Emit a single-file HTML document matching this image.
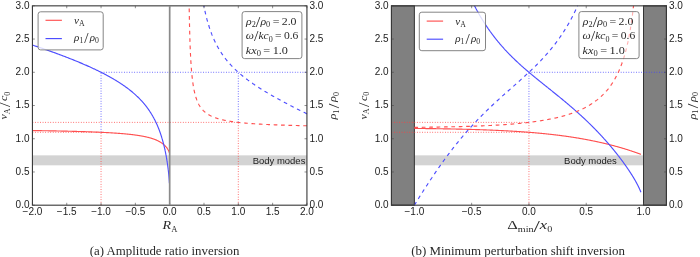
<!DOCTYPE html>
<html><head><meta charset="utf-8"><style>
html,body{margin:0;padding:0;background:#fff;}
body{width:700px;height:257px;overflow:hidden;}
svg{display:block;filter:blur(0.3px);}
</style></head><body>
<svg width="700" height="257" viewBox="0 0 700 257">
<rect width="700" height="257" fill="#fff"/>
<rect x="32.43" y="155.35" width="274.50" height="9.97" fill="#d3d3d3"/><text x="305.40" y="163.92" text-anchor="end" font-family="Liberation Sans, sans-serif" font-size="8.6" fill="#1a1a1a" textLength="52.7" lengthAdjust="spacingAndGlyphs">Body modes</text><line x1="101.06" y1="205.19" x2="101.06" y2="132.30" stroke="#ff4040" stroke-width="1.0" stroke-dasharray="0.85 1.7" opacity="0.85"/><line x1="101.06" y1="132.30" x2="101.06" y2="72.29" stroke="#4040ff" stroke-width="1.0" stroke-dasharray="0.85 1.7" opacity="0.85"/><line x1="238.31" y1="205.19" x2="238.31" y2="122.38" stroke="#ff4040" stroke-width="1.0" stroke-dasharray="0.85 1.7" opacity="0.85"/><line x1="238.31" y1="122.38" x2="238.31" y2="72.29" stroke="#4040ff" stroke-width="1.0" stroke-dasharray="0.85 1.7" opacity="0.85"/><line x1="32.43" y1="132.30" x2="101.06" y2="132.30" stroke="#ff4040" stroke-width="1.0" stroke-dasharray="0.85 1.7" opacity="0.85"/><line x1="32.43" y1="122.38" x2="238.31" y2="122.38" stroke="#ff4040" stroke-width="1.0" stroke-dasharray="0.85 1.7" opacity="0.85"/><line x1="101.06" y1="72.29" x2="306.93" y2="72.29" stroke="#4040ff" stroke-width="1.0" stroke-dasharray="0.85 1.7" opacity="0.85"/><path d="M169.39,152.82 L169.31,152.53 L169.22,152.24 L169.12,151.96 L169.01,151.67 L168.89,151.39 L168.77,151.11 L168.64,150.83 L168.51,150.55 L168.37,150.28 L168.23,150.01 L168.08,149.74 L167.92,149.48 L167.77,149.22 L167.60,148.96 L167.44,148.71 L167.27,148.46 L167.09,148.21 L166.91,147.95 L166.73,147.71 L166.54,147.47 L166.35,147.23 L166.16,147.00 L165.96,146.76 L165.75,146.53 L165.55,146.31 L165.34,146.08 L165.13,145.86 L164.92,145.65 L164.70,145.43 L164.47,145.22 L164.25,145.01 L164.03,144.81 L163.80,144.61 L163.56,144.40 L163.31,144.20 L163.06,143.99 L162.82,143.81 L162.58,143.62 L162.33,143.44 L162.07,143.25 L161.81,143.06 L161.54,142.88 L161.29,142.71 L161.03,142.55 L160.77,142.38 L160.50,142.21 L160.22,142.04 L159.94,141.88 L159.65,141.71 L159.38,141.56 L159.11,141.41 L158.83,141.26 L158.54,141.12 L158.25,140.97 L157.95,140.82 L157.64,140.67 L157.37,140.54 L157.09,140.41 L156.80,140.28 L156.51,140.15 L156.20,140.02 L155.90,139.89 L155.58,139.76 L155.26,139.63 L154.97,139.52 L154.68,139.41 L154.39,139.30 L154.09,139.19 L153.78,139.07 L153.46,138.96 L153.14,138.85 L152.81,138.74 L152.48,138.63 L152.19,138.54 L151.90,138.44 L151.60,138.35 L151.30,138.26 L150.99,138.16 L150.68,138.07 L150.36,137.98 L150.03,137.89 L149.69,137.79 L149.35,137.70 L149.01,137.61 L148.65,137.51 L148.29,137.42 L147.99,137.35 L147.69,137.27 L147.39,137.20 L147.08,137.13 L146.76,137.05 L146.44,136.98 L146.11,136.90 L145.78,136.83 L145.44,136.75 L145.09,136.68 L144.74,136.61 L144.38,136.53 L144.02,136.46 L143.64,136.38 L143.27,136.31 L142.88,136.23 L142.58,136.18 L142.28,136.12 L141.98,136.07 L141.67,136.01 L141.36,135.96 L141.04,135.90 L140.72,135.84 L140.39,135.79 L140.06,135.73 L139.72,135.68 L139.38,135.62 L139.03,135.57 L138.68,135.51 L138.32,135.45 L137.96,135.40 L137.58,135.34 L137.21,135.29 L136.82,135.23 L136.43,135.18 L136.04,135.12 L135.64,135.06 L135.23,135.01 L134.81,134.95 L134.39,134.90 L133.95,134.84 L133.52,134.79 L133.07,134.73 L132.77,134.69 L132.46,134.66 L132.15,134.62 L131.84,134.58 L131.52,134.55 L131.20,134.51 L130.87,134.47 L130.55,134.43 L130.21,134.40 L129.87,134.36 L129.53,134.32 L129.19,134.29 L128.84,134.25 L128.48,134.21 L128.12,134.17 L127.76,134.14 L127.39,134.10 L127.01,134.06 L126.64,134.03 L126.25,133.99 L125.86,133.95 L125.47,133.91 L125.07,133.88 L124.66,133.84 L124.25,133.80 L123.83,133.77 L123.41,133.73 L122.98,133.69 L122.55,133.65 L122.11,133.62 L121.66,133.58 L121.20,133.54 L120.74,133.51 L120.28,133.47 L119.80,133.43 L119.32,133.39 L118.83,133.36 L118.34,133.32 L117.83,133.28 L117.32,133.25 L116.80,133.21 L116.27,133.17 L115.74,133.13 L115.19,133.10 L114.64,133.06 L114.08,133.02 L113.50,132.99 L112.92,132.95 L112.33,132.91 L111.73,132.87 L111.43,132.86 L111.12,132.84 L110.81,132.82 L110.50,132.80 L110.18,132.78 L109.87,132.76 L109.55,132.74 L109.22,132.73 L108.90,132.71 L108.57,132.69 L108.24,132.67 L107.90,132.65 L107.57,132.63 L107.23,132.61 L106.88,132.60 L106.54,132.58 L106.19,132.56 L105.84,132.54 L105.48,132.52 L105.12,132.50 L104.76,132.48 L104.39,132.47 L104.02,132.45 L103.65,132.43 L103.27,132.41 L102.90,132.39 L102.51,132.37 L102.13,132.35 L101.74,132.34 L101.34,132.32 L100.94,132.30 L100.54,132.28 L100.14,132.26 L99.73,132.24 L99.31,132.22 L98.89,132.21 L98.47,132.19 L98.05,132.17 L97.62,132.15 L97.18,132.13 L96.74,132.11 L96.30,132.10 L95.85,132.08 L95.40,132.06 L94.94,132.04 L94.48,132.02 L94.01,132.00 L93.54,131.98 L93.06,131.97 L92.58,131.95 L92.09,131.93 L91.60,131.91 L91.11,131.89 L90.60,131.87 L90.09,131.85 L89.58,131.84 L89.06,131.82 L88.54,131.80 L88.01,131.78 L87.47,131.76 L86.93,131.74 L86.38,131.72 L85.82,131.71 L85.26,131.69 L84.69,131.67 L84.12,131.65 L83.54,131.63 L82.95,131.61 L82.35,131.59 L81.75,131.58 L81.14,131.56 L80.53,131.54 L79.90,131.52 L79.27,131.50 L78.63,131.48 L77.99,131.46 L77.33,131.45 L76.67,131.43 L76.00,131.41 L75.32,131.39 L74.63,131.37 L73.93,131.35 L73.23,131.33 L72.51,131.32 L71.79,131.30 L71.05,131.28 L70.31,131.26 L69.56,131.24 L68.79,131.22 L68.02,131.20 L67.24,131.19 L66.44,131.17 L65.64,131.15 L64.82,131.13 L63.99,131.11 L63.15,131.09 L62.30,131.07 L61.44,131.06 L60.56,131.04 L59.67,131.02 L58.77,131.00 L57.86,130.98 L56.93,130.96 L55.99,130.94 L55.04,130.93 L54.07,130.91 L53.08,130.89 L52.08,130.87 L51.07,130.85 L50.04,130.83 L48.99,130.81 L47.93,130.80 L46.85,130.78 L45.76,130.76 L44.64,130.74 L43.51,130.72 L42.36,130.70 L41.19,130.68 L40.00,130.67 L38.79,130.65 L37.56,130.63 L36.31,130.61 L35.04,130.59 L33.75,130.57 L32.43,130.55" fill="none" stroke="#ff5050" stroke-width="1.15"/><path d="M169.39,183.26 L169.38,182.92 L169.36,182.58 L169.34,182.25 L169.32,181.91 L169.30,181.58 L169.28,181.25 L169.26,180.92 L169.24,180.59 L169.21,180.26 L169.19,179.94 L169.17,179.61 L169.15,179.29 L169.12,178.97 L169.10,178.65 L169.07,178.33 L169.05,178.01 L169.02,177.69 L169.00,177.37 L168.97,177.06 L168.95,176.74 L168.92,176.43 L168.89,176.12 L168.86,175.80 L168.84,175.49 L168.81,175.18 L168.78,174.87 L168.75,174.56 L168.72,174.25 L168.69,173.94 L168.66,173.64 L168.63,173.33 L168.60,173.02 L168.57,172.72 L168.54,172.41 L168.50,172.10 L168.47,171.80 L168.44,171.50 L168.40,171.19 L168.37,170.89 L168.34,170.58 L168.30,170.28 L168.27,169.98 L168.23,169.68 L168.20,169.38 L168.16,169.07 L168.12,168.77 L168.09,168.47 L168.05,168.17 L168.01,167.87 L167.97,167.57 L167.93,167.27 L167.90,166.97 L167.86,166.67 L167.82,166.37 L167.78,166.07 L167.74,165.77 L167.70,165.48 L167.66,165.18 L167.61,164.88 L167.57,164.58 L167.53,164.28 L167.49,163.99 L167.44,163.69 L167.40,163.39 L167.36,163.09 L167.31,162.79 L167.27,162.50 L167.22,162.20 L167.18,161.90 L167.13,161.60 L167.09,161.31 L167.04,161.01 L166.99,160.71 L166.94,160.42 L166.90,160.12 L166.85,159.82 L166.80,159.53 L166.75,159.23 L166.70,158.93 L166.65,158.63 L166.60,158.34 L166.55,158.04 L166.50,157.74 L166.45,157.45 L166.39,157.15 L166.34,156.85 L166.29,156.56 L166.23,156.26 L166.18,155.96 L166.12,155.66 L166.07,155.37 L166.01,155.07 L165.96,154.77 L165.90,154.48 L165.84,154.18 L165.79,153.88 L165.73,153.58 L165.67,153.29 L165.61,152.99 L165.55,152.69 L165.49,152.39 L165.43,152.09 L165.37,151.80 L165.31,151.50 L165.25,151.20 L165.18,150.90 L165.12,150.60 L165.06,150.30 L164.99,150.00 L164.93,149.71 L164.86,149.41 L164.79,149.11 L164.73,148.81 L164.66,148.51 L164.59,148.21 L164.51,147.87 L164.43,147.53 L164.36,147.18 L164.27,146.84 L164.19,146.50 L164.11,146.16 L164.03,145.81 L163.94,145.47 L163.86,145.13 L163.77,144.78 L163.69,144.44 L163.60,144.09 L163.51,143.75 L163.42,143.40 L163.33,143.06 L163.24,142.71 L163.15,142.37 L163.06,142.02 L162.96,141.67 L162.87,141.33 L162.77,140.98 L162.67,140.63 L162.58,140.29 L162.48,139.94 L162.38,139.59 L162.28,139.24 L162.17,138.89 L162.07,138.54 L161.97,138.19 L161.86,137.84 L161.75,137.49 L161.65,137.14 L161.54,136.79 L161.43,136.44 L161.31,136.08 L161.20,135.73 L161.09,135.38 L160.97,135.02 L160.86,134.67 L160.74,134.32 L160.62,133.96 L160.50,133.61 L160.38,133.25 L160.25,132.89 L160.13,132.54 L160.00,132.18 L159.87,131.82 L159.74,131.46 L159.61,131.10 L159.48,130.74 L159.35,130.38 L159.21,130.02 L159.07,129.66 L158.93,129.30 L158.79,128.94 L158.65,128.58 L158.51,128.21 L158.36,127.85 L158.21,127.48 L158.07,127.12 L157.91,126.75 L157.76,126.39 L157.61,126.02 L157.45,125.65 L157.33,125.37 L157.21,125.10 L157.09,124.82 L156.97,124.54 L156.84,124.26 L156.72,123.99 L156.59,123.71 L156.46,123.43 L156.33,123.15 L156.20,122.87 L156.07,122.59 L155.94,122.31 L155.81,122.02 L155.67,121.74 L155.53,121.46 L155.40,121.18 L155.26,120.89 L155.12,120.61 L154.97,120.32 L154.83,120.04 L154.68,119.75 L154.54,119.47 L154.39,119.18 L154.24,118.89 L154.09,118.61 L153.93,118.32 L153.78,118.03 L153.62,117.74 L153.46,117.45 L153.30,117.16 L153.14,116.87 L152.98,116.58 L152.81,116.29 L152.65,115.99 L152.48,115.70 L152.31,115.40 L152.13,115.11 L151.96,114.81 L151.78,114.52 L151.60,114.22 L151.42,113.92 L151.24,113.63 L151.05,113.33 L150.87,113.03 L150.68,112.73 L150.49,112.43 L150.29,112.12 L150.09,111.82 L149.90,111.52 L149.69,111.21 L149.49,110.91 L149.29,110.60 L149.08,110.30 L148.87,109.99 L148.65,109.68 L148.44,109.37 L148.22,109.06 L147.99,108.75 L147.77,108.44 L147.54,108.12 L147.31,107.81 L147.08,107.50 L146.84,107.18 L146.60,106.86 L146.36,106.54 L146.11,106.23 L145.86,105.91 L145.61,105.58 L145.35,105.26 L145.09,104.94 L144.83,104.61 L144.56,104.29 L144.29,103.96 L144.02,103.63 L143.74,103.30 L143.46,102.97 L143.17,102.64 L142.88,102.31 L142.58,101.97 L142.28,101.64 L142.08,101.41 L141.88,101.19 L141.67,100.96 L141.46,100.73 L141.25,100.51 L141.04,100.28 L140.83,100.05 L140.61,99.82 L140.39,99.59 L140.17,99.36 L139.95,99.13 L139.72,98.90 L139.50,98.66 L139.27,98.43 L139.03,98.19 L138.80,97.96 L138.56,97.72 L138.32,97.49 L138.08,97.25 L137.83,97.01 L137.58,96.77 L137.33,96.53 L137.08,96.29 L136.82,96.05 L136.57,95.80 L136.30,95.56 L136.04,95.32 L135.77,95.07 L135.50,94.82 L135.23,94.58 L134.95,94.33 L134.67,94.08 L134.39,93.83 L134.10,93.58 L133.81,93.33 L133.52,93.07 L133.22,92.82 L132.92,92.56 L132.61,92.30 L132.31,92.05 L131.99,91.79 L131.68,91.53 L131.36,91.27 L131.04,91.00 L130.71,90.74 L130.38,90.48 L130.04,90.21 L129.70,89.94 L129.36,89.67 L129.01,89.40 L128.66,89.13 L128.30,88.86 L127.94,88.58 L127.57,88.31 L127.20,88.03 L126.83,87.75 L126.44,87.47 L126.06,87.19 L125.67,86.91 L125.27,86.62 L124.87,86.33 L124.46,86.05 L124.04,85.76 L123.62,85.46 L123.20,85.17 L122.77,84.87 L122.33,84.58 L121.88,84.28 L121.43,83.98 L120.98,83.67 L120.51,83.37 L120.04,83.06 L119.56,82.75 L119.08,82.44 L118.58,82.13 L118.08,81.81 L117.58,81.50 L117.32,81.34 L117.06,81.17 L116.80,81.01 L116.54,80.85 L116.27,80.69 L116.01,80.53 L115.74,80.36 L115.46,80.20 L115.19,80.03 L114.92,79.87 L114.64,79.70 L114.36,79.54 L114.08,79.37 L113.79,79.20 L113.50,79.03 L113.21,78.86 L112.92,78.69 L112.63,78.52 L112.33,78.35 L112.03,78.18 L111.73,78.01 L111.43,77.83 L111.12,77.66 L110.81,77.48 L110.50,77.31 L110.18,77.13 L109.87,76.95 L109.55,76.78 L109.22,76.60 L108.90,76.42 L108.57,76.24 L108.24,76.05 L107.90,75.87 L107.57,75.69 L107.23,75.50 L106.88,75.32 L106.54,75.13 L106.19,74.95 L105.84,74.76 L105.48,74.57 L105.12,74.38 L104.76,74.19 L104.39,74.00 L104.02,73.81 L103.65,73.61 L103.27,73.42 L102.90,73.23 L102.51,73.03 L102.13,72.83 L101.74,72.63 L101.34,72.43 L100.94,72.23 L100.54,72.03 L100.14,71.83 L99.73,71.63 L99.31,71.42 L98.89,71.21 L98.47,71.01 L98.05,70.80 L97.62,70.59 L97.18,70.38 L96.74,70.17 L96.30,69.95 L95.85,69.74 L95.40,69.52 L94.94,69.31 L94.48,69.09 L94.01,68.87 L93.54,68.65 L93.06,68.42 L92.58,68.20 L92.09,67.98 L91.60,67.75 L91.11,67.52 L90.60,67.29 L90.09,67.06 L89.58,66.83 L89.06,66.59 L88.54,66.36 L88.01,66.12 L87.47,65.88 L86.93,65.64 L86.38,65.40 L85.82,65.15 L85.26,64.91 L84.69,64.66 L84.12,64.41 L83.54,64.16 L82.95,63.91 L82.35,63.65 L81.75,63.39 L81.14,63.14 L80.53,62.88 L79.90,62.61 L79.27,62.35 L78.63,62.08 L77.99,61.81 L77.33,61.54 L76.67,61.27 L76.00,60.99 L75.32,60.72 L74.63,60.44 L73.93,60.15 L73.23,59.87 L72.51,59.58 L71.79,59.29 L71.05,59.00 L70.31,58.71 L69.56,58.41 L68.79,58.11 L68.02,57.81 L67.24,57.50 L66.44,57.19 L65.64,56.88 L64.82,56.57 L63.99,56.25 L63.15,55.93 L62.30,55.61 L61.44,55.28 L60.56,54.96 L59.67,54.62 L58.77,54.29 L57.86,53.95 L56.93,53.61 L55.99,53.26 L55.04,52.91 L54.07,52.56 L53.08,52.20 L52.08,51.84 L51.07,51.48 L50.04,51.11 L48.99,50.74 L47.93,50.36 L46.85,49.98 L45.76,49.59 L44.64,49.20 L43.51,48.81 L42.36,48.41 L41.19,48.01 L40.00,47.60 L38.79,47.19 L37.56,46.77 L36.31,46.35 L35.04,45.92 L33.75,45.49 L32.43,45.05" fill="none" stroke="#4d4dff" stroke-width="1.15"/><path d="M306.93,125.78 L305.39,125.75 L303.89,125.72 L302.42,125.68 L300.99,125.65 L299.59,125.61 L298.23,125.58 L296.90,125.55 L295.60,125.51 L294.33,125.48 L293.09,125.44 L291.87,125.41 L290.69,125.38 L289.53,125.34 L288.39,125.31 L287.28,125.28 L286.19,125.24 L285.13,125.21 L284.09,125.17 L283.07,125.14 L282.07,125.11 L281.09,125.07 L280.13,125.04 L279.19,125.01 L278.26,124.97 L277.36,124.94 L276.47,124.90 L275.60,124.87 L274.75,124.84 L273.91,124.80 L273.09,124.77 L272.28,124.73 L271.49,124.70 L270.71,124.67 L269.94,124.63 L269.19,124.60 L268.45,124.57 L267.73,124.53 L267.02,124.50 L266.32,124.46 L265.63,124.43 L264.95,124.40 L264.28,124.36 L263.63,124.33 L262.99,124.29 L262.35,124.26 L261.73,124.23 L261.12,124.19 L260.51,124.16 L259.92,124.13 L259.33,124.09 L258.76,124.06 L258.19,124.02 L257.63,123.99 L257.08,123.96 L256.54,123.92 L256.01,123.89 L255.48,123.85 L254.96,123.82 L254.45,123.79 L253.95,123.75 L253.46,123.72 L252.97,123.69 L252.49,123.65 L252.01,123.62 L251.54,123.58 L251.08,123.55 L250.63,123.52 L250.18,123.48 L249.73,123.45 L249.30,123.41 L248.87,123.38 L248.44,123.35 L248.02,123.31 L247.61,123.28 L247.20,123.25 L246.80,123.21 L246.40,123.18 L246.00,123.14 L245.62,123.11 L245.23,123.08 L244.86,123.04 L244.48,123.01 L244.11,122.97 L243.75,122.94 L243.39,122.91 L243.03,122.87 L242.68,122.84 L242.34,122.81 L241.99,122.77 L241.65,122.74 L241.32,122.70 L240.99,122.67 L240.66,122.64 L240.34,122.60 L240.02,122.57 L239.70,122.53 L239.39,122.50 L239.08,122.47 L238.78,122.43 L238.48,122.40 L238.18,122.37 L237.59,122.30 L237.02,122.23 L236.46,122.16 L235.91,122.10 L235.37,122.03 L234.85,121.96 L234.33,121.89 L233.83,121.82 L233.33,121.76 L232.85,121.69 L232.37,121.62 L231.91,121.55 L231.45,121.49 L231.00,121.42 L230.57,121.35 L230.14,121.28 L229.71,121.22 L229.30,121.15 L228.89,121.08 L228.49,121.01 L228.10,120.94 L227.72,120.88 L227.34,120.81 L226.97,120.74 L226.60,120.67 L226.24,120.61 L225.89,120.54 L225.55,120.47 L225.20,120.40 L224.87,120.34 L224.54,120.27 L224.22,120.20 L223.90,120.13 L223.59,120.06 L223.28,120.00 L222.97,119.93 L222.68,119.86 L222.38,119.79 L221.95,119.69 L221.53,119.59 L221.12,119.49 L220.71,119.39 L220.32,119.29 L219.93,119.19 L219.56,119.08 L219.19,118.98 L218.83,118.88 L218.48,118.78 L218.13,118.68 L217.79,118.58 L217.46,118.47 L217.13,118.37 L216.82,118.27 L216.50,118.17 L216.20,118.07 L215.90,117.97 L215.61,117.87 L215.32,117.76 L215.03,117.66 L214.67,117.53 L214.31,117.39 L213.95,117.26 L213.61,117.12 L213.28,116.99 L212.95,116.85 L212.63,116.71 L212.32,116.58 L212.02,116.44 L211.72,116.31 L211.43,116.17 L211.15,116.04 L210.87,115.90 L210.60,115.77 L210.26,115.60 L209.94,115.43 L209.63,115.26 L209.32,115.09 L209.02,114.92 L208.73,114.75 L208.44,114.58 L208.17,114.41 L207.90,114.24 L207.63,114.08 L207.37,113.91 L207.12,113.74 L206.83,113.53 L206.54,113.33 L206.26,113.13 L205.99,112.93 L205.73,112.72 L205.47,112.52 L205.22,112.32 L204.98,112.11 L204.74,111.91 L204.51,111.71 L204.28,111.50 L204.06,111.30 L203.81,111.06 L203.56,110.83 L203.32,110.59 L203.09,110.35 L202.87,110.12 L202.65,109.88 L202.43,109.64 L202.23,109.41 L202.02,109.17 L201.82,108.93 L201.63,108.70 L201.44,108.46 L201.23,108.19 L201.03,107.92 L200.83,107.65 L200.64,107.38 L200.45,107.11 L200.26,106.83 L200.09,106.56 L199.91,106.29 L199.74,106.02 L199.57,105.75 L199.33,105.34 L199.13,105.00 L198.94,104.66 L198.76,104.31 L198.58,103.97 L198.40,103.62 L198.23,103.28 L198.06,102.94 L197.90,102.59 L197.75,102.25 L197.59,101.90 L197.44,101.56 L197.30,101.22 L197.16,100.87 L197.02,100.53 L196.89,100.18 L196.76,99.84 L196.63,99.50 L196.51,99.15 L196.38,98.81 L196.27,98.47 L196.15,98.12 L196.04,97.78 L195.93,97.43 L195.82,97.09 L195.71,96.75 L195.61,96.40 L195.51,96.06 L195.41,95.71 L195.32,95.37 L195.22,95.03 L195.13,94.68 L195.04,94.34 L194.95,93.99 L194.87,93.65 L194.78,93.31 L194.70,92.96 L194.62,92.62 L194.54,92.27 L194.46,91.93 L194.38,91.59 L194.31,91.24 L194.24,90.90 L194.16,90.56 L194.09,90.21 L194.02,89.87 L193.96,89.52 L193.89,89.18 L193.82,88.84 L193.76,88.49 L193.70,88.15 L193.63,87.80 L193.57,87.46 L193.51,87.12 L193.45,86.77 L193.40,86.43 L193.34,86.08 L193.28,85.74 L193.23,85.40 L193.17,85.05 L193.12,84.71 L193.07,84.37 L193.02,84.02 L192.97,83.68 L192.92,83.33 L192.87,82.99 L192.82,82.65 L192.77,82.30 L192.73,81.96 L192.68,81.61 L192.64,81.27 L192.59,80.93 L192.55,80.58 L192.51,80.24 L192.46,79.89 L192.42,79.55 L192.38,79.21 L192.34,78.86 L192.30,78.52 L192.26,78.18 L192.22,77.83 L192.18,77.49 L192.15,77.14 L192.11,76.80 L192.07,76.46 L192.04,76.11 L192.00,75.77 L191.97,75.42 L191.93,75.08 L191.90,74.74 L191.87,74.39 L191.83,74.05 L191.80,73.70 L191.77,73.36 L191.74,73.02 L191.70,72.67 L191.67,72.33 L191.64,71.98 L191.61,71.64 L191.58,71.30 L191.55,70.95 L191.53,70.61 L191.50,70.27 L191.47,69.92 L191.44,69.58 L191.41,69.23 L191.39,68.89 L191.36,68.55 L191.33,68.20 L191.31,67.86 L191.28,67.51 L191.26,67.17 L191.23,66.83 L191.21,66.48 L191.18,66.14 L191.16,65.79 L191.13,65.45 L191.11,65.11 L191.09,64.76 L191.06,64.42 L191.04,64.08 L191.02,63.73 L191.00,63.39 L190.97,63.04 L190.95,62.70 L190.93,62.36 L190.91,62.01 L190.89,61.67 L190.87,61.32 L190.85,60.98 L190.83,60.64 L190.81,60.29 L190.79,59.95 L190.77,59.60 L190.75,59.26 L190.73,58.92 L190.71,58.57 L190.69,58.23 L190.67,57.89 L190.65,57.54 L190.63,57.20 L190.62,56.85 L190.60,56.51 L190.58,56.17 L190.56,55.82 L190.55,55.48 L190.53,55.13 L190.51,54.79 L190.50,54.45 L190.48,54.10 L190.46,53.76 L190.45,53.41 L190.43,53.07 L190.42,52.73 L190.40,52.38 L190.38,52.04 L190.37,51.69 L190.35,51.35 L190.34,51.01 L190.32,50.66 L190.31,50.32 L190.29,49.98 L190.28,49.63 L190.26,49.29 L190.25,48.94 L190.24,48.60 L190.22,48.26 L190.21,47.91 L190.20,47.57 L190.18,47.22 L190.17,46.88 L190.15,46.54 L190.14,46.19 L190.13,45.85 L190.12,45.50 L190.10,45.16 L190.09,44.82 L190.08,44.47 L190.07,44.13 L190.05,43.79 L190.04,43.44 L190.03,43.10 L190.02,42.75 L190.00,42.41 L189.99,42.07 L189.98,41.72 L189.97,41.38 L189.96,41.03 L189.95,40.69 L189.94,40.35 L189.92,40.00 L189.91,39.66 L189.90,39.31 L189.89,38.97 L189.88,38.63 L189.87,38.28 L189.86,37.94 L189.85,37.60 L189.84,37.25 L189.83,36.91 L189.82,36.56 L189.81,36.22 L189.80,35.88 L189.79,35.53 L189.78,35.19 L189.77,34.84 L189.76,34.50 L189.75,34.16 L189.74,33.81 L189.73,33.47 L189.72,33.12 L189.71,32.78 L189.70,32.44 L189.69,32.09 L189.68,31.75 L189.67,31.40 L189.67,31.06 L189.66,30.72 L189.65,30.37 L189.64,30.03 L189.63,29.69 L189.62,29.34 L189.61,29.00 L189.60,28.65 L189.60,28.31 L189.59,27.97 L189.58,27.62 L189.57,27.28 L189.56,26.93 L189.56,26.59 L189.55,26.25 L189.54,25.90 L189.53,25.56 L189.52,25.21 L189.52,24.87 L189.51,24.53 L189.50,24.18 L189.49,23.84 L189.49,23.50 L189.48,23.15 L189.47,22.81 L189.46,22.46 L189.46,22.12 L189.45,21.78 L189.44,21.43 L189.43,21.09 L189.43,20.74 L189.42,20.40 L189.41,20.06 L189.41,19.71 L189.40,19.37 L189.39,19.02 L189.39,18.68 L189.38,18.34 L189.37,17.99 L189.37,17.65 L189.36,17.31 L189.35,16.96 L189.35,16.62 L189.34,16.27 L189.33,15.93 L189.33,15.59 L189.32,15.24 L189.31,14.90 L189.31,14.55 L189.30,14.21 L189.30,13.87 L189.29,13.52 L189.28,13.18 L189.28,12.83 L189.27,12.49 L189.27,12.15 L189.26,11.80 L189.25,11.46 L189.25,11.11 L189.24,10.77 L189.24,10.43 L189.23,10.08 L189.23,9.74 L189.22,9.40 L189.21,9.05 L189.21,8.71 L189.20,8.36 L189.20,8.02 L189.19,7.68 L189.19,7.33 L189.18,6.99 L189.18,6.64 L189.17,6.30 L189.17,5.96 L189.16,5.84" fill="none" stroke="#ff5050" stroke-width="1.15" stroke-dasharray="3.7 3.7"/><path d="M306.93,113.86 L305.39,113.10 L303.89,112.35 L302.42,111.62 L300.99,110.91 L299.59,110.21 L298.23,109.52 L296.90,108.85 L295.60,108.19 L294.33,107.54 L293.09,106.90 L291.87,106.28 L290.69,105.66 L289.53,105.06 L288.39,104.47 L287.28,103.89 L286.19,103.31 L285.13,102.75 L284.09,102.20 L283.07,101.65 L282.07,101.11 L281.09,100.59 L280.13,100.06 L279.19,99.55 L278.26,99.04 L277.36,98.55 L276.47,98.05 L275.60,97.57 L274.75,97.09 L273.91,96.62 L273.09,96.15 L272.28,95.69 L271.49,95.24 L270.71,94.79 L269.94,94.35 L269.19,93.91 L268.45,93.48 L267.73,93.05 L267.02,92.63 L266.32,92.21 L265.63,91.80 L264.95,91.39 L264.28,90.99 L263.63,90.59 L262.99,90.19 L262.35,89.80 L261.73,89.41 L261.12,89.03 L260.51,88.65 L259.92,88.27 L259.33,87.90 L258.76,87.53 L258.19,87.16 L257.63,86.80 L257.08,86.44 L256.54,86.09 L256.01,85.73 L255.48,85.38 L254.96,85.04 L254.45,84.69 L253.95,84.35 L253.46,84.01 L252.97,83.68 L252.49,83.34 L252.01,83.01 L251.54,82.69 L251.08,82.36 L250.63,82.04 L250.18,81.72 L249.73,81.40 L249.30,81.08 L248.87,80.77 L248.44,80.45 L248.02,80.15 L247.61,79.84 L247.20,79.53 L246.80,79.23 L246.40,78.93 L246.00,78.63 L245.62,78.33 L245.23,78.03 L244.86,77.74 L244.48,77.45 L244.11,77.15 L243.75,76.87 L243.39,76.58 L243.03,76.29 L242.68,76.01 L242.34,75.72 L241.99,75.44 L241.65,75.16 L241.32,74.89 L240.99,74.61 L240.66,74.33 L240.34,74.06 L240.02,73.79 L239.70,73.52 L239.39,73.25 L239.08,72.98 L238.78,72.71 L238.48,72.44 L238.18,72.18 L237.88,71.91 L237.59,71.65 L237.30,71.39 L237.02,71.13 L236.74,70.87 L236.46,70.61 L236.18,70.36 L235.91,70.10 L235.64,69.85 L235.37,69.59 L235.11,69.34 L234.85,69.09 L234.59,68.84 L234.33,68.59 L234.08,68.34 L233.83,68.09 L233.58,67.84 L233.33,67.60 L233.09,67.35 L232.85,67.11 L232.61,66.86 L232.37,66.62 L232.14,66.38 L231.91,66.14 L231.68,65.90 L231.45,65.66 L231.23,65.42 L231.00,65.18 L230.78,64.95 L230.57,64.71 L230.35,64.47 L230.14,64.24 L229.92,64.00 L229.71,63.77 L229.51,63.54 L229.30,63.31 L229.09,63.07 L228.89,62.84 L228.69,62.61 L228.49,62.38 L228.30,62.16 L228.10,61.93 L227.72,61.47 L227.34,61.02 L226.97,60.57 L226.60,60.12 L226.24,59.68 L225.89,59.23 L225.55,58.79 L225.20,58.35 L224.87,57.92 L224.54,57.48 L224.22,57.05 L223.90,56.61 L223.59,56.18 L223.28,55.76 L222.97,55.33 L222.68,54.90 L222.38,54.48 L222.09,54.06 L221.81,53.64 L221.53,53.22 L221.25,52.80 L220.98,52.38 L220.71,51.97 L220.45,51.56 L220.19,51.14 L219.93,50.73 L219.68,50.32 L219.43,49.91 L219.19,49.51 L218.95,49.10 L218.71,48.69 L218.48,48.29 L218.24,47.89 L218.02,47.48 L217.79,47.08 L217.57,46.68 L217.35,46.28 L217.13,45.88 L216.92,45.49 L216.71,45.09 L216.50,44.69 L216.30,44.30 L216.10,43.91 L215.90,43.51 L215.70,43.12 L215.51,42.73 L215.32,42.34 L215.13,41.95 L214.94,41.56 L214.76,41.17 L214.57,40.78 L214.39,40.39 L214.22,40.01 L214.04,39.62 L213.87,39.23 L213.70,38.85 L213.53,38.46 L213.36,38.08 L213.20,37.70 L213.03,37.31 L212.87,36.93 L212.71,36.55 L212.55,36.17 L212.40,35.79 L212.25,35.41 L212.09,35.03 L211.94,34.65 L211.79,34.27 L211.65,33.89 L211.50,33.52 L211.36,33.14 L211.22,32.76 L211.08,32.38 L210.94,32.01 L210.80,31.63 L210.66,31.26 L210.53,30.88 L210.39,30.51 L210.26,30.13 L210.13,29.76 L210.00,29.39 L209.88,29.01 L209.75,28.64 L209.63,28.27 L209.50,27.89 L209.38,27.52 L209.26,27.15 L209.14,26.78 L209.02,26.41 L208.90,26.04 L208.79,25.67 L208.67,25.30 L208.56,24.93 L208.44,24.56 L208.33,24.19 L208.22,23.82 L208.11,23.45 L208.00,23.08 L207.90,22.71 L207.79,22.34 L207.68,21.98 L207.58,21.61 L207.48,21.24 L207.37,20.87 L207.27,20.51 L207.17,20.14 L207.07,19.77 L206.97,19.41 L206.88,19.04 L206.78,18.67 L206.68,18.31 L206.59,17.94 L206.50,17.57 L206.40,17.21 L206.31,16.84 L206.22,16.48 L206.13,16.11 L206.04,15.75 L205.95,15.38 L205.86,15.02 L205.77,14.65 L205.68,14.29 L205.60,13.92 L205.51,13.56 L205.43,13.19 L205.34,12.83 L205.26,12.47 L205.18,12.10 L205.10,11.74 L205.02,11.37 L204.94,11.01 L204.86,10.65 L204.78,10.28 L204.70,9.92 L204.62,9.56 L204.54,9.19 L204.47,8.83 L204.39,8.47 L204.32,8.10 L204.24,7.74 L204.17,7.38 L204.09,7.01 L204.02,6.65 L203.95,6.29 L203.88,5.93 L203.86,5.84" fill="none" stroke="#4d4dff" stroke-width="1.15" stroke-dasharray="3.7 3.7"/><g stroke="#444" stroke-width="0.6"><line x1="32.43" y1="205.19" x2="32.43" y2="202.79"/><line x1="32.43" y1="5.84" x2="32.43" y2="8.24"/><line x1="66.74" y1="205.19" x2="66.74" y2="202.79"/><line x1="66.74" y1="5.84" x2="66.74" y2="8.24"/><line x1="101.06" y1="205.19" x2="101.06" y2="202.79"/><line x1="101.06" y1="5.84" x2="101.06" y2="8.24"/><line x1="135.37" y1="205.19" x2="135.37" y2="202.79"/><line x1="135.37" y1="5.84" x2="135.37" y2="8.24"/><line x1="169.68" y1="205.19" x2="169.68" y2="202.79"/><line x1="169.68" y1="5.84" x2="169.68" y2="8.24"/><line x1="203.99" y1="205.19" x2="203.99" y2="202.79"/><line x1="203.99" y1="5.84" x2="203.99" y2="8.24"/><line x1="238.31" y1="205.19" x2="238.31" y2="202.79"/><line x1="238.31" y1="5.84" x2="238.31" y2="8.24"/><line x1="272.62" y1="205.19" x2="272.62" y2="202.79"/><line x1="272.62" y1="5.84" x2="272.62" y2="8.24"/><line x1="306.93" y1="205.19" x2="306.93" y2="202.79"/><line x1="306.93" y1="5.84" x2="306.93" y2="8.24"/><line x1="32.43" y1="205.19" x2="34.83" y2="205.19"/><line x1="306.93" y1="205.19" x2="304.53000000000003" y2="205.19"/><line x1="32.43" y1="171.97" x2="34.83" y2="171.97"/><line x1="306.93" y1="171.97" x2="304.53000000000003" y2="171.97"/><line x1="32.43" y1="138.74" x2="34.83" y2="138.74"/><line x1="306.93" y1="138.74" x2="304.53000000000003" y2="138.74"/><line x1="32.43" y1="105.52" x2="34.83" y2="105.52"/><line x1="306.93" y1="105.52" x2="304.53000000000003" y2="105.52"/><line x1="32.43" y1="72.29" x2="34.83" y2="72.29"/><line x1="306.93" y1="72.29" x2="304.53000000000003" y2="72.29"/><line x1="32.43" y1="39.06" x2="34.83" y2="39.06"/><line x1="306.93" y1="39.06" x2="304.53000000000003" y2="39.06"/><line x1="32.43" y1="5.84" x2="34.83" y2="5.84"/><line x1="306.93" y1="5.84" x2="304.53000000000003" y2="5.84"/></g><rect x="32.43" y="5.84" width="274.50" height="199.35" fill="none" stroke="#383838" stroke-width="1.1"/><g font-family="Liberation Sans, sans-serif" font-size="10" fill="#222"><text x="29.53" y="208.04" text-anchor="end">0.0</text><text x="309.53" y="208.04">0.0</text><text x="29.53" y="174.81" text-anchor="end">0.5</text><text x="309.53" y="174.81">0.5</text><text x="29.53" y="141.59" text-anchor="end">1.0</text><text x="309.53" y="141.59">1.0</text><text x="29.53" y="108.36" text-anchor="end">1.5</text><text x="309.53" y="108.36">1.5</text><text x="29.53" y="75.14" text-anchor="end">2.0</text><text x="309.53" y="75.14">2.0</text><text x="29.53" y="41.91" text-anchor="end">2.5</text><text x="309.53" y="41.91">2.5</text><text x="29.53" y="8.69" text-anchor="end">3.0</text><text x="309.53" y="8.69">3.0</text><text x="32.43" y="215.29" text-anchor="middle">−2.0</text><text x="66.74" y="215.29" text-anchor="middle">−1.5</text><text x="101.06" y="215.29" text-anchor="middle">−1.0</text><text x="135.37" y="215.29" text-anchor="middle">−0.5</text><text x="169.68" y="215.29" text-anchor="middle">0.0</text><text x="203.99" y="215.29" text-anchor="middle">0.5</text><text x="238.31" y="215.29" text-anchor="middle">1.0</text><text x="272.62" y="215.29" text-anchor="middle">1.5</text><text x="306.93" y="215.29" text-anchor="middle">2.0</text></g><rect x="38.1" y="11.8" width="65.1" height="38.1" rx="2.5" fill="#fff" fill-opacity="0.8" stroke="#777" stroke-width="0.9"/><line x1="45.5" y1="20.3" x2="61.900000000000006" y2="20.3" stroke="#ff5050" stroke-width="1.15"/><line x1="45.5" y1="38.6" x2="61.900000000000006" y2="38.6" stroke="#4d4dff" stroke-width="1.15"/><text x="74.1" y="23.8" font-family="Liberation Serif, serif" font-size="10.5" fill="#2a2a2a" textLength="10.6" lengthAdjust="spacingAndGlyphs"><tspan font-style="italic">v</tspan><tspan font-size="7.3" dy="2.3">A</tspan></text><text x="74.1" y="41.0" font-family="Liberation Serif, serif" font-size="10.5" fill="#2a2a2a" textLength="24.8" lengthAdjust="spacingAndGlyphs"><tspan font-style="italic">ρ</tspan><tspan font-size="7.3" dy="2.3">1</tspan><tspan dx="1.0" font-size="14.49" dy="-0.20">/</tspan><tspan font-style="italic" dx="1.0" dy="-2.10">ρ</tspan><tspan font-size="7.3" dy="2.3">0</tspan></text><rect x="242.1" y="11.6" width="59.8" height="47.0" rx="2.5" fill="#fff" fill-opacity="0.55" stroke="#777" stroke-width="0.9"/><text x="246.0" y="24.7" font-family="Liberation Serif, serif" font-size="10.5" fill="#2a2a2a" textLength="50.6" lengthAdjust="spacingAndGlyphs"><tspan font-style="italic">ρ</tspan><tspan font-size="7.3" dy="2.3">2</tspan><tspan font-size="14.49" dy="-0.20">/</tspan><tspan font-style="italic" dy="-2.10">ρ</tspan><tspan font-size="7.3" dy="2.3">0</tspan><tspan dy="-2.3"> = 2.0</tspan></text><text x="245.79999999999998" y="39.3" font-family="Liberation Serif, serif" font-size="10.5" fill="#2a2a2a" textLength="52.6" lengthAdjust="spacingAndGlyphs"><tspan font-style="italic">ω</tspan><tspan font-size="14.49" dy="2.10">/</tspan><tspan font-style="italic" dy="-2.10">kc</tspan><tspan font-size="7.3" dy="2.3">0</tspan><tspan dy="-2.3"> = 0.6</tspan></text><text x="245.79999999999998" y="53.9" font-family="Liberation Serif, serif" font-size="10.5" fill="#2a2a2a" textLength="42.2" lengthAdjust="spacingAndGlyphs"><tspan font-style="italic">kx</tspan><tspan font-size="7.3" dy="2.3">0</tspan><tspan dy="-2.3"> = 1.0</tspan></text><line x1="169.68" y1="5.84" x2="169.68" y2="205.19" stroke="#8a8a8a" stroke-width="1.7"/><rect x="391.45" y="155.35" width="274.98" height="9.97" fill="#d3d3d3"/><text x="616.80" y="163.92" text-anchor="end" font-family="Liberation Sans, sans-serif" font-size="8.6" fill="#1a1a1a" textLength="52.7" lengthAdjust="spacingAndGlyphs">Body modes</text><rect x="391.45" y="5.84" width="22.92" height="199.35" fill="#808080" stroke="#333" stroke-width="1"/><rect x="643.51" y="5.84" width="22.91" height="199.35" fill="#808080" stroke="#333" stroke-width="1"/><line x1="528.94" y1="205.19" x2="528.94" y2="122.38" stroke="#ff4040" stroke-width="1.0" stroke-dasharray="0.85 1.7" opacity="0.85"/><line x1="528.94" y1="122.38" x2="528.94" y2="72.29" stroke="#4040ff" stroke-width="1.0" stroke-dasharray="0.85 1.7" opacity="0.85"/><line x1="391.45" y1="132.30" x2="528.94" y2="132.30" stroke="#ff4040" stroke-width="1.0" stroke-dasharray="0.85 1.7" opacity="0.85"/><line x1="391.45" y1="122.38" x2="528.94" y2="122.38" stroke="#ff4040" stroke-width="1.0" stroke-dasharray="0.85 1.7" opacity="0.85"/><line x1="528.94" y1="72.29" x2="666.43" y2="72.29" stroke="#4040ff" stroke-width="1.0" stroke-dasharray="0.85 1.7" opacity="0.85"/><path d="M640.91,154.36 L640.62,154.24 L640.32,154.13 L640.02,154.02 L639.72,153.91 L639.42,153.80 L639.11,153.69 L638.81,153.58 L638.50,153.46 L638.20,153.35 L637.89,153.24 L637.58,153.13 L637.27,153.02 L636.96,152.91 L636.65,152.79 L636.33,152.68 L636.02,152.57 L635.70,152.46 L635.38,152.35 L635.06,152.24 L634.74,152.13 L634.42,152.01 L634.10,151.90 L633.77,151.79 L633.45,151.68 L633.12,151.57 L632.79,151.46 L632.46,151.35 L632.13,151.23 L631.80,151.12 L631.46,151.01 L631.13,150.90 L630.79,150.79 L630.45,150.68 L630.11,150.57 L629.77,150.45 L629.43,150.34 L629.08,150.23 L628.74,150.12 L628.39,150.01 L628.04,149.90 L627.69,149.78 L627.34,149.67 L626.98,149.56 L626.63,149.45 L626.27,149.34 L625.91,149.23 L625.55,149.12 L625.19,149.00 L624.83,148.89 L624.46,148.78 L624.10,148.67 L623.73,148.56 L623.36,148.45 L622.99,148.34 L622.61,148.22 L622.24,148.11 L621.86,148.00 L621.48,147.89 L621.10,147.78 L620.72,147.67 L620.33,147.55 L619.95,147.44 L619.56,147.33 L619.17,147.22 L618.78,147.11 L618.38,147.00 L617.99,146.89 L617.59,146.77 L617.19,146.66 L616.79,146.55 L616.39,146.44 L615.98,146.33 L615.57,146.22 L615.16,146.11 L614.75,145.99 L614.34,145.88 L613.92,145.77 L613.50,145.66 L613.08,145.55 L612.66,145.44 L612.24,145.33 L611.81,145.21 L611.38,145.10 L610.95,144.99 L610.51,144.88 L610.22,144.80 L609.93,144.73 L609.64,144.66 L609.34,144.58 L609.05,144.51 L608.75,144.43 L608.45,144.36 L608.15,144.28 L607.85,144.21 L607.55,144.14 L607.25,144.06 L606.95,143.99 L606.64,143.91 L606.34,143.84 L606.03,143.76 L605.72,143.69 L605.42,143.62 L605.10,143.54 L604.79,143.47 L604.48,143.39 L604.17,143.32 L603.85,143.24 L603.53,143.17 L603.22,143.10 L602.90,143.02 L602.58,142.95 L602.25,142.87 L601.93,142.80 L601.61,142.72 L601.28,142.65 L600.95,142.58 L600.63,142.50 L600.29,142.43 L599.96,142.35 L599.63,142.28 L599.30,142.20 L598.96,142.13 L598.62,142.05 L598.28,141.98 L597.94,141.91 L597.60,141.83 L597.26,141.76 L596.91,141.68 L596.57,141.61 L596.22,141.53 L595.87,141.46 L595.52,141.39 L595.16,141.31 L594.81,141.24 L594.45,141.16 L594.10,141.09 L593.74,141.01 L593.37,140.94 L593.01,140.87 L592.65,140.79 L592.28,140.72 L591.91,140.64 L591.54,140.57 L591.17,140.49 L590.79,140.42 L590.42,140.35 L590.04,140.27 L589.66,140.20 L589.28,140.12 L588.90,140.05 L588.51,139.97 L588.12,139.90 L587.73,139.82 L587.34,139.75 L586.95,139.68 L586.55,139.60 L586.15,139.53 L585.75,139.45 L585.35,139.38 L584.94,139.30 L584.54,139.23 L584.13,139.16 L583.72,139.08 L583.30,139.01 L582.89,138.93 L582.47,138.86 L582.05,138.78 L581.62,138.71 L581.20,138.64 L580.77,138.56 L580.34,138.49 L579.90,138.41 L579.47,138.34 L579.03,138.26 L578.58,138.19 L578.14,138.12 L577.69,138.04 L577.24,137.97 L576.79,137.89 L576.33,137.82 L575.87,137.74 L575.41,137.67 L574.94,137.60 L574.48,137.52 L574.00,137.45 L573.53,137.37 L573.05,137.30 L572.57,137.22 L572.09,137.15 L571.60,137.07 L571.11,137.00 L570.61,136.93 L570.11,136.85 L569.61,136.78 L569.10,136.70 L568.59,136.63 L568.08,136.55 L567.56,136.48 L567.04,136.41 L566.52,136.33 L565.99,136.26 L565.45,136.18 L564.92,136.11 L564.37,136.03 L563.83,135.96 L563.28,135.89 L562.72,135.81 L562.16,135.74 L561.60,135.66 L561.03,135.59 L560.45,135.51 L559.87,135.44 L559.29,135.37 L558.70,135.29 L558.10,135.22 L557.80,135.18 L557.50,135.14 L557.20,135.11 L556.89,135.07 L556.59,135.03 L556.28,134.99 L555.97,134.96 L555.67,134.92 L555.35,134.88 L555.04,134.85 L554.73,134.81 L554.41,134.77 L554.10,134.73 L553.78,134.70 L553.46,134.66 L553.13,134.62 L552.81,134.58 L552.49,134.55 L552.16,134.51 L551.83,134.47 L551.50,134.44 L551.17,134.40 L550.84,134.36 L550.50,134.32 L550.16,134.29 L549.83,134.25 L549.49,134.21 L549.14,134.18 L548.80,134.14 L548.45,134.10 L548.11,134.06 L547.76,134.03 L547.40,133.99 L547.05,133.95 L546.70,133.92 L546.34,133.88 L545.98,133.84 L545.62,133.80 L545.25,133.77 L544.89,133.73 L544.52,133.69 L544.15,133.66 L543.78,133.62 L543.40,133.58 L543.03,133.54 L542.65,133.51 L542.27,133.47 L541.88,133.43 L541.50,133.40 L541.11,133.36 L540.72,133.32 L540.33,133.28 L539.93,133.25 L539.53,133.21 L539.13,133.17 L538.73,133.14 L538.32,133.10 L537.91,133.06 L537.50,133.02 L537.09,132.99 L536.67,132.95 L536.25,132.91 L535.83,132.88 L535.40,132.84 L534.97,132.80 L534.54,132.76 L534.11,132.73 L533.67,132.69 L533.23,132.65 L532.79,132.62 L532.34,132.58 L531.89,132.54 L531.43,132.50 L530.98,132.47 L530.52,132.43 L530.05,132.39 L529.58,132.36 L529.11,132.32 L528.64,132.28 L528.16,132.24 L527.68,132.21 L527.19,132.17 L526.70,132.13 L526.20,132.09 L525.83,132.07 L525.46,132.04 L525.16,132.02 L524.86,132.00 L524.55,131.97 L524.25,131.95 L523.94,131.93 L523.63,131.91 L523.32,131.88 L523.01,131.86 L522.69,131.84 L522.38,131.82 L522.06,131.80 L521.74,131.77 L521.42,131.75 L521.10,131.73 L520.78,131.71 L520.45,131.68 L520.13,131.66 L519.80,131.64 L519.47,131.62 L519.13,131.60 L518.80,131.57 L518.46,131.55 L518.12,131.53 L517.78,131.51 L517.44,131.48 L517.10,131.46 L516.75,131.44 L516.40,131.42 L516.05,131.40 L515.70,131.37 L515.34,131.35 L514.99,131.33 L514.63,131.31 L514.26,131.29 L513.90,131.26 L513.54,131.24 L513.17,131.22 L512.80,131.20 L512.42,131.17 L512.05,131.15 L511.67,131.13 L511.29,131.11 L510.91,131.09 L510.52,131.06 L510.13,131.04 L509.74,131.02 L509.35,131.00 L508.96,130.97 L508.56,130.95 L508.26,130.94 L507.95,130.92 L507.65,130.90 L507.35,130.89 L507.04,130.87 L506.73,130.85 L506.42,130.84 L506.11,130.82 L505.79,130.80 L505.48,130.79 L505.16,130.77 L504.84,130.75 L504.52,130.74 L504.20,130.72 L503.87,130.70 L503.55,130.69 L503.22,130.67 L502.89,130.65 L502.56,130.64 L502.23,130.62 L501.89,130.60 L501.55,130.59 L501.21,130.57 L500.87,130.55 L500.53,130.54 L500.18,130.52 L499.83,130.50 L499.48,130.49 L499.13,130.47 L498.78,130.45 L498.42,130.44 L498.06,130.42 L497.70,130.40 L497.34,130.39 L496.97,130.37 L496.60,130.35 L496.23,130.34 L495.86,130.32 L495.48,130.30 L495.11,130.29 L494.73,130.27 L494.34,130.25 L493.96,130.24 L493.57,130.22 L493.18,130.20 L492.78,130.19 L492.39,130.17 L491.99,130.15 L491.59,130.14 L491.18,130.12 L490.77,130.10 L490.36,130.09 L489.95,130.07 L489.53,130.05 L489.11,130.04 L488.69,130.02 L488.26,130.00 L487.83,129.99 L487.40,129.97 L486.96,129.95 L486.52,129.94 L486.08,129.92 L485.63,129.90 L485.33,129.89 L485.03,129.88 L484.72,129.87 L484.42,129.86 L484.11,129.85 L483.80,129.84 L483.49,129.83 L483.18,129.82 L482.87,129.80 L482.55,129.79 L482.24,129.78 L481.92,129.77 L481.60,129.76 L481.27,129.75 L480.95,129.74 L480.62,129.73 L480.30,129.72 L479.96,129.70 L479.63,129.69 L479.30,129.68 L478.96,129.67 L478.62,129.66 L478.28,129.65 L477.94,129.64 L477.60,129.63 L477.25,129.62 L476.90,129.60 L476.55,129.59 L476.19,129.58 L475.84,129.57 L475.48,129.56 L475.12,129.55 L474.76,129.54 L474.39,129.53 L474.02,129.52 L473.65,129.50 L473.28,129.49 L472.91,129.48 L472.53,129.47 L472.15,129.46 L471.76,129.45 L471.38,129.44 L470.99,129.43 L470.60,129.42 L470.21,129.40 L469.81,129.39 L469.41,129.38 L469.01,129.37 L468.60,129.36 L468.19,129.35 L467.78,129.34 L467.36,129.33 L466.95,129.32 L466.52,129.30 L466.10,129.29 L465.67,129.28 L465.24,129.27 L464.80,129.26 L464.37,129.25 L463.92,129.24 L463.48,129.23 L463.03,129.22 L462.58,129.21 L462.12,129.19 L461.66,129.18 L461.19,129.17 L460.73,129.16 L460.25,129.15 L459.78,129.14 L459.30,129.13 L458.81,129.12 L458.32,129.11 L457.83,129.09 L457.33,129.08 L456.82,129.07 L456.32,129.06 L455.80,129.05 L455.28,129.04 L454.76,129.03 L454.23,129.02 L453.70,129.01 L453.16,128.99 L452.62,128.98 L452.07,128.97 L451.51,128.96 L450.95,128.95 L450.38,128.94 L449.81,128.93 L449.23,128.92 L448.65,128.91 L448.05,128.89 L447.46,128.88 L447.15,128.88 L446.85,128.87 L446.55,128.87 L446.24,128.86 L445.93,128.86 L445.62,128.85 L445.31,128.84 L444.99,128.84 L444.68,128.83 L444.36,128.83 L444.04,128.82 L443.72,128.82 L443.39,128.81 L443.07,128.81 L442.74,128.80 L442.41,128.79 L442.08,128.79 L441.74,128.78 L441.41,128.78 L441.07,128.77 L440.59,128.76 L440.12,128.76 L439.65,128.75 L439.19,128.74 L438.74,128.74 L438.29,128.73 L437.85,128.72 L437.41,128.71 L436.99,128.71 L436.56,128.70 L436.15,128.70 L435.74,128.69 L435.34,128.68 L434.94,128.68 L434.55,128.67 L434.17,128.67 L433.79,128.66 L433.42,128.66 L433.05,128.65 L432.69,128.65 L432.34,128.64 L431.99,128.64 L431.65,128.63 L431.31,128.63 L430.98,128.62 L430.65,128.62 L430.33,128.61 L430.02,128.61 L429.71,128.61 L429.40,128.60 L428.81,128.59 L428.24,128.59 L427.68,128.58 L427.15,128.57 L426.64,128.57 L426.14,128.56 L425.66,128.55 L425.20,128.55 L424.76,128.54 L424.33,128.54 L423.92,128.53 L423.53,128.53 L423.15,128.52 L422.78,128.52 L422.43,128.52 L422.09,128.51 L421.77,128.51 L421.45,128.50 L421.01,128.50 L420.59,128.49 L420.20,128.49 L419.83,128.49 L419.48,128.48 L419.15,128.48 L418.85,128.48 L418.47,128.47 L418.12,128.47 L417.80,128.46 L417.43,128.46 L417.11,128.46 L416.76,128.45 L416.46,128.45 L416.15,128.45 L415.82,128.44 L415.50,128.44 L415.19,128.44 L414.89,128.43 L414.58,128.43 L414.37,128.43" fill="none" stroke="#ff5050" stroke-width="1.15"/><path d="M640.91,192.30 L640.72,191.78 L640.52,191.28 L640.32,190.79 L640.12,190.31 L639.92,189.84 L639.72,189.38 L639.52,188.93 L639.32,188.48 L639.11,188.04 L638.91,187.60 L638.71,187.18 L638.50,186.75 L638.30,186.33 L638.10,185.92 L637.89,185.51 L637.68,185.10 L637.48,184.70 L637.27,184.30 L637.06,183.90 L636.86,183.51 L636.65,183.12 L636.44,182.73 L636.23,182.35 L636.02,181.97 L635.81,181.59 L635.59,181.21 L635.38,180.83 L635.17,180.46 L634.96,180.09 L634.74,179.72 L634.53,179.35 L634.31,178.98 L634.10,178.61 L633.88,178.25 L633.66,177.89 L633.45,177.53 L633.23,177.16 L633.01,176.81 L632.79,176.45 L632.57,176.09 L632.35,175.73 L632.13,175.38 L631.91,175.02 L631.69,174.67 L631.46,174.32 L631.24,173.97 L631.01,173.61 L630.79,173.26 L630.56,172.91 L630.34,172.56 L630.11,172.22 L629.88,171.87 L629.65,171.52 L629.43,171.17 L629.20,170.83 L628.97,170.48 L628.74,170.14 L628.50,169.79 L628.27,169.45 L628.04,169.10 L627.81,168.76 L627.57,168.42 L627.34,168.07 L627.10,167.73 L626.86,167.39 L626.63,167.05 L626.39,166.71 L626.15,166.36 L625.91,166.02 L625.67,165.68 L625.43,165.34 L625.19,165.00 L624.95,164.66 L624.71,164.32 L624.46,163.98 L624.22,163.64 L623.97,163.30 L623.73,162.96 L623.48,162.62 L623.23,162.28 L622.99,161.94 L622.74,161.61 L622.49,161.27 L622.24,160.93 L621.99,160.59 L621.73,160.25 L621.48,159.91 L621.23,159.57 L620.97,159.23 L620.72,158.89 L620.46,158.56 L620.21,158.22 L619.95,157.88 L619.69,157.54 L619.43,157.20 L619.17,156.86 L618.91,156.52 L618.65,156.18 L618.38,155.85 L618.12,155.51 L617.86,155.17 L617.59,154.83 L617.33,154.49 L617.06,154.15 L616.79,153.81 L616.52,153.47 L616.25,153.13 L615.98,152.79 L615.71,152.45 L615.44,152.11 L615.16,151.77 L614.89,151.43 L614.61,151.09 L614.34,150.75 L614.06,150.41 L613.78,150.07 L613.50,149.73 L613.22,149.39 L612.94,149.04 L612.66,148.70 L612.38,148.36 L612.09,148.02 L611.81,147.68 L611.52,147.33 L611.23,146.99 L610.95,146.65 L610.66,146.31 L610.37,145.96 L610.08,145.62 L609.78,145.27 L609.49,144.93 L609.19,144.59 L608.90,144.24 L608.60,143.90 L608.30,143.55 L608.00,143.21 L607.70,142.86 L607.40,142.51 L607.10,142.17 L606.80,141.82 L606.49,141.47 L606.19,141.13 L605.88,140.78 L605.57,140.43 L605.26,140.08 L604.95,139.73 L604.64,139.38 L604.32,139.04 L604.01,138.69 L603.69,138.34 L603.38,137.99 L603.06,137.63 L602.74,137.28 L602.42,136.93 L602.09,136.58 L601.77,136.23 L601.44,135.87 L601.12,135.52 L600.79,135.17 L600.46,134.81 L600.13,134.46 L599.80,134.10 L599.46,133.75 L599.13,133.39 L598.79,133.03 L598.45,132.68 L598.11,132.32 L597.77,131.96 L597.43,131.60 L597.09,131.24 L596.74,130.88 L596.39,130.52 L596.04,130.16 L595.69,129.80 L595.34,129.44 L594.99,129.08 L594.63,128.71 L594.27,128.35 L593.92,127.99 L593.56,127.62 L593.19,127.26 L592.83,126.89 L592.46,126.52 L592.10,126.16 L591.73,125.79 L591.35,125.42 L590.98,125.05 L590.61,124.68 L590.23,124.31 L589.85,123.94 L589.47,123.56 L589.09,123.19 L588.70,122.82 L588.32,122.44 L587.93,122.07 L587.54,121.69 L587.14,121.31 L586.75,120.93 L586.35,120.56 L585.95,120.18 L585.55,119.79 L585.15,119.41 L584.74,119.03 L584.33,118.65 L583.92,118.26 L583.51,117.88 L583.09,117.49 L582.68,117.10 L582.26,116.71 L581.83,116.32 L581.41,115.93 L580.98,115.54 L580.55,115.15 L580.12,114.75 L579.68,114.36 L579.25,113.96 L578.81,113.56 L578.36,113.16 L577.92,112.76 L577.69,112.56 L577.47,112.36 L577.24,112.16 L577.01,111.96 L576.79,111.75 L576.56,111.55 L576.33,111.35 L576.10,111.15 L575.87,110.94 L575.64,110.74 L575.41,110.53 L575.18,110.33 L574.94,110.12 L574.71,109.92 L574.48,109.71 L574.24,109.51 L574.00,109.30 L573.77,109.09 L573.53,108.89 L573.29,108.68 L573.05,108.47 L572.81,108.26 L572.57,108.05 L572.33,107.84 L572.09,107.63 L571.84,107.42 L571.60,107.21 L571.35,107.00 L571.11,106.79 L570.86,106.57 L570.61,106.36 L570.36,106.15 L570.11,105.94 L569.86,105.72 L569.61,105.51 L569.36,105.29 L569.10,105.08 L568.85,104.86 L568.59,104.64 L568.34,104.43 L568.08,104.21 L567.82,103.99 L567.56,103.77 L567.30,103.55 L567.04,103.33 L566.78,103.11 L566.52,102.89 L566.25,102.67 L565.99,102.45 L565.72,102.22 L565.45,102.00 L565.19,101.78 L564.92,101.55 L564.65,101.33 L564.37,101.10 L564.10,100.87 L563.83,100.65 L563.55,100.42 L563.28,100.19 L563.00,99.96 L562.72,99.73 L562.44,99.50 L562.16,99.27 L561.88,99.04 L561.60,98.80 L561.31,98.57 L561.03,98.34 L560.74,98.10 L560.45,97.86 L560.16,97.63 L559.87,97.39 L559.58,97.15 L559.29,96.91 L558.99,96.67 L558.70,96.43 L558.40,96.19 L558.10,95.95 L557.80,95.70 L557.50,95.46 L557.20,95.22 L556.89,94.97 L556.59,94.72 L556.28,94.47 L555.97,94.22 L555.67,93.97 L555.35,93.72 L555.04,93.47 L554.73,93.22 L554.41,92.96 L554.10,92.71 L553.78,92.45 L553.46,92.20 L553.13,91.94 L552.81,91.68 L552.49,91.42 L552.16,91.15 L551.83,90.89 L551.50,90.63 L551.17,90.36 L550.84,90.09 L550.50,89.82 L550.16,89.55 L549.83,89.28 L549.49,89.01 L549.14,88.74 L548.80,88.46 L548.45,88.18 L548.11,87.91 L547.76,87.63 L547.40,87.35 L547.05,87.06 L546.70,86.78 L546.34,86.49 L545.98,86.20 L545.62,85.91 L545.25,85.62 L544.89,85.33 L544.52,85.04 L544.15,84.74 L543.78,84.44 L543.40,84.14 L543.03,83.84 L542.65,83.53 L542.27,83.23 L541.88,82.92 L541.50,82.61 L541.11,82.30 L540.72,81.98 L540.33,81.67 L539.93,81.35 L539.53,81.02 L539.13,80.70 L538.73,80.37 L538.32,80.04 L537.91,79.71 L537.50,79.38 L537.09,79.04 L536.67,78.70 L536.25,78.36 L535.83,78.01 L535.40,77.67 L534.97,77.31 L534.54,76.96 L534.11,76.60 L533.67,76.24 L533.23,75.88 L532.79,75.51 L532.34,75.14 L531.89,74.76 L531.43,74.39 L530.98,74.00 L530.52,73.62 L530.05,73.23 L529.58,72.83 L529.11,72.44 L528.64,72.03 L528.16,71.63 L527.68,71.22 L527.19,70.80 L526.70,70.38 L526.20,69.95 L525.91,69.70 L525.61,69.44 L525.31,69.18 L525.01,68.92 L524.78,68.72 L524.55,68.52 L524.32,68.32 L524.09,68.12 L523.86,67.92 L523.63,67.71 L523.40,67.51 L523.16,67.30 L522.93,67.09 L522.69,66.89 L522.46,66.68 L522.22,66.47 L521.98,66.25 L521.74,66.04 L521.50,65.82 L521.26,65.61 L521.02,65.39 L520.78,65.17 L520.53,64.95 L520.29,64.73 L520.04,64.51 L519.80,64.28 L519.55,64.06 L519.30,63.83 L519.05,63.60 L518.80,63.37 L518.55,63.14 L518.29,62.91 L518.04,62.67 L517.78,62.43 L517.53,62.19 L517.27,61.95 L517.01,61.71 L516.75,61.47 L516.49,61.22 L516.23,60.98 L515.96,60.73 L515.70,60.48 L515.43,60.22 L515.16,59.97 L514.90,59.71 L514.63,59.46 L514.36,59.20 L514.08,58.93 L513.81,58.67 L513.54,58.40 L513.26,58.13 L512.98,57.86 L512.70,57.59 L512.42,57.31 L512.14,57.04 L511.86,56.76 L511.58,56.47 L511.29,56.19 L511.00,55.90 L510.72,55.61 L510.43,55.32 L510.13,55.03 L509.84,54.73 L509.55,54.43 L509.25,54.13 L508.96,53.82 L508.66,53.52 L508.36,53.21 L508.06,52.89 L507.75,52.58 L507.45,52.26 L507.14,51.93 L506.83,51.61 L506.63,51.39 L506.42,51.17 L506.21,50.95 L506.00,50.72 L505.79,50.50 L505.58,50.27 L505.37,50.05 L505.16,49.82 L504.95,49.59 L504.74,49.35 L504.52,49.12 L504.31,48.88 L504.09,48.65 L503.87,48.41 L503.66,48.17 L503.44,47.93 L503.22,47.68 L503.00,47.44 L502.78,47.19 L502.56,46.94 L502.34,46.69 L502.11,46.44 L501.89,46.18 L501.66,45.93 L501.44,45.67 L501.21,45.41 L500.99,45.14 L500.76,44.88 L500.53,44.61 L500.30,44.35 L500.07,44.08 L499.83,43.80 L499.60,43.53 L499.37,43.25 L499.13,42.97 L498.90,42.69 L498.66,42.41 L498.42,42.12 L498.18,41.83 L497.94,41.54 L497.70,41.25 L497.46,40.95 L497.22,40.66 L496.97,40.35 L496.73,40.05 L496.48,39.75 L496.23,39.44 L495.98,39.13 L495.73,38.81 L495.48,38.50 L495.23,38.18 L494.98,37.86 L494.73,37.53 L494.47,37.20 L494.21,36.87 L493.96,36.54 L493.70,36.20 L493.44,35.86 L493.18,35.52 L492.92,35.17 L492.65,34.82 L492.39,34.47 L492.12,34.11 L491.85,33.75 L491.59,33.39 L491.32,33.02 L491.04,32.65 L490.77,32.28 L490.50,31.90 L490.22,31.52 L489.95,31.13 L489.67,30.74 L489.39,30.35 L489.11,29.95 L488.83,29.55 L488.54,29.14 L488.26,28.73 L487.97,28.32 L487.69,27.90 L487.40,27.47 L487.11,27.05 L486.81,26.61 L486.52,26.18 L486.22,25.73 L485.93,25.28 L485.63,24.83 L485.33,24.37 L485.03,23.91 L484.72,23.44 L484.42,22.97 L484.11,22.49 L483.80,22.00 L483.49,21.51 L483.18,21.01 L482.87,20.51 L482.55,20.00 L482.40,19.75 L482.24,19.49 L482.08,19.23 L481.92,18.96 L481.76,18.70 L481.60,18.44 L481.44,18.17 L481.27,17.90 L481.11,17.63 L480.95,17.36 L480.79,17.09 L480.62,16.81 L480.46,16.53 L480.30,16.25 L480.13,15.97 L479.96,15.69 L479.80,15.41 L479.63,15.12 L479.47,14.83 L479.30,14.54 L479.13,14.25 L478.96,13.96 L478.79,13.66 L478.62,13.36 L478.45,13.06 L478.28,12.76 L478.11,12.46 L477.94,12.15 L477.77,11.84 L477.60,11.53 L477.42,11.22 L477.25,10.90 L477.07,10.59 L476.90,10.27 L476.72,9.95 L476.55,9.62 L476.37,9.30 L476.19,8.97 L476.02,8.64 L475.84,8.30 L475.66,7.97 L475.48,7.63 L475.30,7.29 L475.12,6.95 L474.94,6.60 L474.76,6.26 L474.57,5.90 L474.54,5.84" fill="none" stroke="#4d4dff" stroke-width="1.15"/><path d="M414.37,127.39 L414.67,127.38 L414.98,127.38 L415.29,127.38 L415.61,127.37 L415.93,127.37 L416.24,127.37 L416.56,127.36 L416.88,127.36 L417.24,127.35 L417.58,127.35 L417.96,127.35 L418.29,127.34 L418.66,127.34 L419.05,127.33 L419.37,127.33 L419.71,127.33 L420.08,127.32 L420.46,127.32 L420.87,127.31 L421.30,127.31 L421.61,127.30 L421.93,127.30 L422.25,127.30 L422.60,127.29 L422.95,127.29 L423.33,127.28 L423.71,127.28 L424.11,127.27 L424.53,127.27 L424.96,127.26 L425.41,127.26 L425.87,127.25 L426.35,127.24 L426.85,127.24 L427.37,127.23 L427.91,127.22 L428.46,127.21 L429.04,127.21 L429.63,127.20 L429.94,127.19 L430.25,127.19 L430.57,127.18 L430.89,127.18 L431.21,127.17 L431.55,127.17 L431.88,127.16 L432.23,127.16 L432.57,127.15 L432.93,127.15 L433.29,127.14 L433.65,127.14 L434.02,127.13 L434.40,127.13 L434.78,127.12 L435.17,127.11 L435.57,127.11 L435.97,127.10 L436.37,127.09 L436.79,127.09 L437.20,127.08 L437.63,127.07 L438.06,127.07 L438.50,127.06 L438.94,127.05 L439.39,127.04 L439.84,127.03 L440.31,127.03 L440.77,127.02 L441.25,127.01 L441.73,127.00 L442.22,126.99 L442.71,126.98 L443.21,126.97 L443.72,126.96 L444.23,126.95 L444.75,126.94 L445.27,126.93 L445.80,126.92 L446.34,126.91 L446.89,126.90 L447.44,126.89 L448.00,126.88 L448.56,126.87 L449.13,126.85 L449.71,126.84 L450.29,126.83 L450.88,126.82 L451.48,126.80 L452.08,126.79 L452.69,126.77 L453.31,126.76 L453.93,126.75 L454.56,126.73 L455.20,126.72 L455.84,126.70 L456.49,126.68 L457.14,126.67 L457.80,126.65 L458.47,126.63 L459.14,126.62 L459.82,126.60 L460.50,126.58 L461.19,126.56 L461.89,126.54 L462.59,126.52 L463.30,126.50 L464.01,126.48 L464.73,126.46 L465.46,126.44 L466.19,126.42 L466.93,126.39 L467.67,126.37 L468.42,126.35 L469.18,126.32 L469.94,126.30 L470.70,126.27 L471.47,126.25 L472.25,126.22 L473.03,126.19 L473.81,126.17 L474.61,126.14 L475.40,126.11 L476.20,126.08 L477.01,126.05 L477.82,126.02 L478.64,125.98 L479.46,125.95 L480.28,125.92 L481.11,125.88 L481.95,125.85 L482.78,125.81 L483.63,125.78 L484.47,125.74 L485.33,125.70 L486.18,125.66 L487.04,125.62 L487.91,125.58 L488.77,125.54 L489.64,125.49 L490.52,125.45 L492.88,125.33 L495.12,125.20 L497.26,125.08 L499.31,124.96 L501.27,124.83 L503.14,124.71 L504.95,124.59 L506.68,124.47 L508.35,124.34 L509.96,124.22 L511.52,124.10 L513.02,123.97 L514.48,123.85 L515.89,123.73 L517.26,123.60 L518.58,123.48 L519.87,123.36 L521.12,123.23 L522.33,123.11 L523.52,122.99 L524.67,122.87 L525.79,122.74 L526.88,122.62 L527.95,122.50 L528.99,122.37 L530.01,122.25 L531.00,122.13 L531.98,122.00 L532.93,121.88 L533.85,121.76 L534.76,121.64 L535.65,121.51 L536.52,121.39 L537.38,121.27 L538.22,121.14 L539.04,121.02 L539.84,120.90 L540.63,120.77 L541.41,120.65 L542.17,120.53 L542.91,120.40 L543.65,120.28 L544.37,120.16 L545.08,120.04 L545.78,119.91 L546.46,119.79 L547.13,119.67 L547.80,119.54 L548.45,119.42 L549.09,119.30 L549.72,119.17 L550.34,119.05 L550.96,118.93 L551.56,118.80 L552.15,118.68 L552.74,118.56 L553.32,118.44 L553.88,118.31 L554.44,118.19 L555.00,118.07 L555.54,117.94 L556.08,117.82 L556.61,117.70 L557.13,117.57 L557.65,117.45 L558.16,117.33 L558.66,117.21 L559.16,117.08 L559.65,116.96 L560.13,116.84 L560.61,116.71 L561.08,116.59 L561.55,116.47 L562.01,116.34 L562.46,116.22 L562.91,116.10 L563.36,115.97 L563.80,115.85 L564.23,115.73 L564.66,115.61 L565.08,115.48 L565.50,115.36 L565.92,115.24 L566.33,115.11 L566.73,114.99 L567.13,114.87 L567.53,114.74 L567.92,114.62 L568.31,114.50 L568.70,114.38 L569.08,114.25 L569.45,114.13 L569.82,114.01 L570.19,113.88 L570.56,113.76 L570.92,113.64 L571.28,113.51 L571.63,113.39 L571.98,113.27 L572.33,113.14 L572.67,113.02 L573.01,112.90 L573.35,112.78 L573.68,112.65 L574.01,112.53 L574.34,112.41 L574.67,112.28 L574.99,112.16 L575.31,112.04 L575.62,111.91 L575.93,111.79 L576.24,111.67 L576.55,111.54 L576.86,111.42 L577.16,111.30 L577.46,111.18 L577.75,111.05 L578.05,110.93 L578.34,110.81 L578.63,110.68 L578.91,110.56 L579.20,110.44 L579.48,110.31 L579.76,110.19 L580.04,110.07 L580.31,109.94 L580.85,109.70 L581.39,109.45 L581.91,109.21 L582.43,108.96 L582.94,108.71 L583.44,108.47 L583.93,108.22 L584.42,107.98 L584.89,107.73 L585.36,107.48 L585.83,107.24 L586.29,106.99 L586.74,106.75 L587.18,106.50 L587.62,106.25 L588.05,106.01 L588.47,105.76 L588.89,105.52 L589.31,105.27 L589.72,105.02 L590.12,104.78 L590.51,104.53 L590.91,104.28 L591.29,104.04 L591.67,103.79 L592.05,103.55 L592.42,103.30 L592.79,103.05 L593.15,102.81 L593.51,102.56 L593.86,102.32 L594.21,102.07 L594.56,101.82 L594.90,101.58 L595.23,101.33 L595.56,101.08 L595.89,100.84 L596.22,100.59 L596.54,100.35 L596.85,100.10 L597.17,99.85 L597.48,99.61 L597.78,99.36 L598.08,99.12 L598.38,98.87 L598.68,98.62 L598.97,98.38 L599.26,98.13 L599.54,97.89 L599.83,97.64 L600.11,97.39 L600.38,97.15 L600.65,96.90 L600.92,96.66 L601.19,96.41 L601.46,96.16 L601.72,95.92 L601.98,95.67 L602.23,95.42 L602.49,95.18 L602.74,94.93 L602.99,94.69 L603.23,94.44 L603.48,94.19 L603.72,93.95 L603.95,93.70 L604.19,93.46 L604.42,93.21 L604.66,92.96 L604.88,92.72 L605.11,92.47 L605.34,92.23 L605.56,91.98 L605.78,91.73 L606.00,91.49 L606.21,91.24 L606.43,90.99 L606.64,90.75 L606.85,90.50 L607.06,90.26 L607.26,90.01 L607.47,89.76 L607.67,89.52 L607.87,89.27 L608.07,89.03 L608.26,88.78 L608.46,88.53 L608.65,88.29 L608.84,88.04 L609.03,87.80 L609.22,87.55 L609.40,87.30 L609.59,87.06 L609.77,86.81 L609.95,86.56 L610.13,86.32 L610.31,86.07 L610.49,85.83 L610.66,85.58 L610.84,85.33 L611.01,85.09 L611.26,84.72 L611.52,84.35 L611.76,83.98 L612.01,83.61 L612.25,83.24 L612.49,82.87 L612.73,82.50 L612.96,82.13 L613.19,81.77 L613.42,81.40 L613.65,81.03 L613.87,80.66 L614.09,80.29 L614.30,79.92 L614.52,79.55 L614.73,79.18 L614.94,78.81 L615.15,78.44 L615.35,78.07 L615.55,77.70 L615.75,77.34 L615.95,76.97 L616.15,76.60 L616.34,76.23 L616.53,75.86 L616.72,75.49 L616.91,75.12 L617.09,74.75 L617.27,74.38 L617.46,74.01 L617.63,73.64 L617.81,73.27 L617.99,72.91 L618.16,72.54 L618.33,72.17 L618.50,71.80 L618.67,71.43 L618.83,71.06 L619.00,70.69 L619.16,70.32 L619.32,69.95 L619.48,69.58 L619.63,69.21 L619.79,68.84 L619.94,68.48 L620.10,68.11 L620.25,67.74 L620.40,67.37 L620.54,67.00 L620.69,66.63 L620.83,66.26 L620.98,65.89 L621.12,65.52 L621.26,65.15 L621.40,64.78 L621.54,64.41 L621.67,64.05 L621.81,63.68 L621.94,63.31 L622.07,62.94 L622.21,62.57 L622.34,62.20 L622.46,61.83 L622.59,61.46 L622.72,61.09 L622.84,60.72 L622.97,60.35 L623.09,59.98 L623.21,59.62 L623.33,59.25 L623.45,58.88 L623.57,58.51 L623.69,58.14 L623.80,57.77 L623.92,57.40 L624.03,57.03 L624.14,56.66 L624.25,56.29 L624.37,55.92 L624.48,55.55 L624.58,55.19 L624.69,54.82 L624.80,54.45 L624.90,54.08 L625.01,53.71 L625.11,53.34 L625.22,52.97 L625.32,52.60 L625.42,52.23 L625.52,51.86 L625.62,51.49 L625.72,51.12 L625.82,50.76 L625.91,50.39 L626.01,50.02 L626.11,49.65 L626.20,49.28 L626.29,48.91 L626.39,48.54 L626.48,48.17 L626.57,47.80 L626.66,47.43 L626.75,47.06 L626.84,46.69 L626.93,46.33 L627.02,45.96 L627.10,45.59 L627.19,45.22 L627.28,44.85 L627.36,44.48 L627.45,44.11 L627.53,43.74 L627.61,43.37 L627.69,43.00 L627.78,42.63 L627.86,42.26 L627.94,41.90 L628.02,41.53 L628.10,41.16 L628.17,40.79 L628.25,40.42 L628.33,40.05 L628.40,39.68 L628.48,39.31 L628.56,38.94 L628.63,38.57 L628.70,38.20 L628.78,37.83 L628.85,37.47 L628.92,37.10 L629.00,36.73 L629.07,36.36 L629.14,35.99 L629.21,35.62 L629.28,35.25 L629.35,34.88 L629.42,34.51 L629.48,34.14 L629.55,33.77 L629.62,33.40 L629.69,33.04 L629.75,32.67 L629.82,32.30 L629.88,31.93 L629.95,31.56 L630.01,31.19 L630.08,30.82 L630.14,30.45 L630.20,30.08 L630.26,29.71 L630.33,29.34 L630.39,28.97 L630.45,28.61 L630.51,28.24 L630.57,27.87 L630.63,27.50 L630.69,27.13 L630.75,26.76 L630.81,26.39 L630.86,26.02 L630.92,25.65 L630.98,25.28 L631.04,24.91 L631.09,24.54 L631.15,24.18 L631.20,23.81 L631.26,23.44 L631.31,23.07 L631.37,22.70 L631.42,22.33 L631.48,21.96 L631.53,21.59 L631.58,21.22 L631.64,20.85 L631.69,20.48 L631.74,20.11 L631.79,19.75 L631.84,19.38 L631.89,19.01 L631.94,18.64 L632.00,18.27 L632.05,17.90 L632.09,17.53 L632.14,17.16 L632.19,16.79 L632.24,16.42 L632.29,16.05 L632.34,15.68 L632.39,15.32 L632.43,14.95 L632.48,14.58 L632.53,14.21 L632.57,13.84 L632.62,13.47 L632.66,13.10 L632.71,12.73 L632.76,12.36 L632.80,11.99 L632.85,11.62 L632.89,11.25 L632.93,10.89 L632.98,10.52 L633.02,10.15 L633.06,9.78 L633.11,9.41 L633.15,9.04 L633.19,8.67 L633.23,8.30 L633.28,7.93 L633.32,7.56 L633.36,7.19 L633.40,6.82 L633.44,6.46 L633.48,6.09 L633.51,5.84" fill="none" stroke="#ff5050" stroke-width="1.15" stroke-dasharray="3.7 3.7"/><path d="M414.37,205.19 L414.52,204.93 L414.68,204.68 L414.84,204.41 L415.01,204.14 L415.17,203.88 L415.33,203.61 L415.50,203.34 L415.67,203.07 L415.86,202.76 L416.04,202.47 L416.20,202.21 L416.37,201.93 L416.56,201.63 L416.77,201.29 L416.94,201.02 L417.12,200.73 L417.31,200.42 L417.51,200.10 L417.73,199.75 L417.96,199.37 L418.12,199.11 L418.29,198.84 L418.47,198.55 L418.66,198.25 L418.85,197.94 L419.05,197.62 L419.26,197.28 L419.48,196.93 L419.71,196.56 L419.95,196.18 L420.20,195.79 L420.46,195.38 L420.73,194.95 L421.01,194.50 L421.30,194.04 L421.61,193.55 L421.93,193.05 L422.09,192.80 L422.25,192.53 L422.42,192.26 L422.60,191.99 L422.77,191.71 L422.95,191.43 L423.14,191.14 L423.33,190.85 L423.52,190.55 L423.71,190.24 L423.91,189.93 L424.11,189.62 L424.32,189.30 L424.53,188.97 L424.74,188.64 L424.96,188.30 L425.18,187.95 L425.41,187.60 L425.64,187.24 L425.87,186.88 L426.11,186.51 L426.35,186.13 L426.60,185.75 L426.85,185.36 L427.11,184.97 L427.37,184.56 L427.64,184.16 L427.91,183.74 L428.18,183.32 L428.46,182.89 L428.75,182.45 L429.04,182.01 L429.33,181.56 L429.63,181.11 L429.94,180.64 L430.25,180.17 L430.57,179.70 L430.89,179.21 L431.21,178.72 L431.55,178.22 L431.88,177.72 L432.23,177.21 L432.57,176.69 L432.93,176.16 L433.29,175.62 L433.65,175.08 L434.02,174.53 L434.40,173.98 L434.78,173.42 L435.17,172.85 L435.57,172.27 L435.97,171.68 L436.37,171.09 L436.79,170.49 L437.20,169.89 L437.63,169.27 L438.06,168.65 L438.50,168.03 L438.94,167.39 L439.39,166.75 L439.84,166.10 L440.31,165.45 L440.77,164.79 L441.25,164.12 L441.73,163.45 L442.22,162.77 L442.71,162.08 L443.21,161.38 L443.72,160.68 L444.23,159.98 L444.75,159.27 L445.27,158.55 L445.80,157.82 L446.34,157.09 L446.89,156.36 L447.44,155.62 L448.00,154.87 L448.56,154.12 L449.13,153.36 L449.71,152.60 L450.29,151.83 L450.88,151.06 L451.48,150.28 L452.08,149.50 L452.69,148.71 L453.31,147.92 L453.93,147.13 L454.56,146.33 L455.20,145.53 L455.84,144.72 L456.49,143.92 L457.14,143.10 L457.80,142.29 L458.47,141.47 L459.14,140.65 L459.82,139.82 L460.50,139.00 L461.19,138.17 L461.89,137.34 L462.59,136.50 L463.30,135.67 L464.01,134.83 L464.73,133.99 L465.46,133.15 L466.19,132.31 L466.93,131.47 L467.67,130.62 L468.42,129.78 L469.18,128.93 L469.94,128.08 L470.70,127.24 L471.47,126.39 L472.25,125.54 L473.03,124.69 L473.81,123.85 L474.61,123.00 L475.40,122.15 L476.20,121.30 L477.01,120.46 L477.82,119.61 L478.64,118.76 L479.46,117.92 L480.28,117.07 L481.11,116.23 L481.95,115.38 L482.78,114.54 L483.63,113.70 L484.47,112.86 L485.33,112.02 L486.18,111.18 L487.04,110.34 L487.91,109.50 L488.77,108.67 L489.64,107.83 L490.52,107.00 L492.88,104.77 L495.12,102.68 L497.26,100.71 L499.31,98.85 L501.27,97.08 L503.14,95.39 L504.95,93.78 L506.68,92.23 L508.35,90.75 L509.96,89.33 L511.52,87.95 L513.02,86.62 L514.48,85.34 L515.89,84.09 L517.26,82.88 L518.58,81.70 L519.87,80.56 L521.12,79.44 L522.33,78.34 L523.52,77.28 L524.67,76.23 L525.79,75.20 L526.88,74.20 L527.95,73.21 L528.99,72.24 L530.01,71.29 L531.00,70.35 L531.98,69.42 L532.93,68.51 L533.85,67.61 L534.76,66.72 L535.65,65.84 L536.52,64.98 L537.38,64.12 L538.22,63.27 L539.04,62.44 L539.84,61.61 L540.63,60.78 L541.41,59.97 L542.17,59.16 L542.91,58.36 L543.65,57.57 L544.37,56.78 L545.08,56.00 L545.78,55.22 L546.46,54.45 L547.13,53.68 L547.80,52.92 L548.45,52.17 L549.09,51.41 L549.72,50.67 L550.34,49.92 L550.96,49.18 L551.56,48.44 L552.15,47.71 L552.74,46.98 L553.32,46.25 L553.88,45.53 L554.44,44.81 L555.00,44.09 L555.54,43.38 L556.08,42.66 L556.61,41.95 L557.13,41.25 L557.65,40.54 L558.16,39.84 L558.66,39.14 L559.16,38.44 L559.65,37.74 L560.13,37.04 L560.61,36.35 L561.08,35.66 L561.55,34.97 L562.01,34.28 L562.46,33.59 L562.91,32.90 L563.36,32.22 L563.80,31.54 L564.23,30.85 L564.66,30.17 L565.08,29.49 L565.50,28.81 L565.92,28.14 L566.33,27.46 L566.73,26.79 L567.13,26.11 L567.53,25.44 L567.92,24.76 L568.31,24.09 L568.70,23.42 L569.08,22.75 L569.45,22.08 L569.82,21.41 L570.19,20.74 L570.56,20.08 L570.92,19.41 L571.28,18.74 L571.63,18.08 L571.98,17.41 L572.33,16.75 L572.67,16.08 L573.01,15.42 L573.35,14.76 L573.68,14.09 L574.01,13.43 L574.34,12.77 L574.67,12.11 L574.99,11.44 L575.31,10.78 L575.62,10.12 L575.93,9.46 L576.24,8.80 L576.55,8.14 L576.86,7.48 L577.16,6.82 L577.46,6.16 L577.60,5.84" fill="none" stroke="#4d4dff" stroke-width="1.15" stroke-dasharray="3.7 3.7"/><g stroke="#444" stroke-width="0.6"><line x1="414.37" y1="205.19" x2="414.37" y2="202.79"/><line x1="414.37" y1="5.84" x2="414.37" y2="8.24"/><line x1="471.65" y1="205.19" x2="471.65" y2="202.79"/><line x1="471.65" y1="5.84" x2="471.65" y2="8.24"/><line x1="528.94" y1="205.19" x2="528.94" y2="202.79"/><line x1="528.94" y1="5.84" x2="528.94" y2="8.24"/><line x1="586.23" y1="205.19" x2="586.23" y2="202.79"/><line x1="586.23" y1="5.84" x2="586.23" y2="8.24"/><line x1="643.51" y1="205.19" x2="643.51" y2="202.79"/><line x1="643.51" y1="5.84" x2="643.51" y2="8.24"/><line x1="391.45" y1="205.19" x2="393.84999999999997" y2="205.19"/><line x1="666.43" y1="205.19" x2="664.03" y2="205.19"/><line x1="391.45" y1="171.97" x2="393.84999999999997" y2="171.97"/><line x1="666.43" y1="171.97" x2="664.03" y2="171.97"/><line x1="391.45" y1="138.74" x2="393.84999999999997" y2="138.74"/><line x1="666.43" y1="138.74" x2="664.03" y2="138.74"/><line x1="391.45" y1="105.52" x2="393.84999999999997" y2="105.52"/><line x1="666.43" y1="105.52" x2="664.03" y2="105.52"/><line x1="391.45" y1="72.29" x2="393.84999999999997" y2="72.29"/><line x1="666.43" y1="72.29" x2="664.03" y2="72.29"/><line x1="391.45" y1="39.06" x2="393.84999999999997" y2="39.06"/><line x1="666.43" y1="39.06" x2="664.03" y2="39.06"/><line x1="391.45" y1="5.84" x2="393.84999999999997" y2="5.84"/><line x1="666.43" y1="5.84" x2="664.03" y2="5.84"/></g><rect x="391.45" y="5.84" width="274.98" height="199.35" fill="none" stroke="#383838" stroke-width="1.1"/><g font-family="Liberation Sans, sans-serif" font-size="10" fill="#222"><text x="388.55" y="208.04" text-anchor="end">0.0</text><text x="669.03" y="208.04">0.0</text><text x="388.55" y="174.81" text-anchor="end">0.5</text><text x="669.03" y="174.81">0.5</text><text x="388.55" y="141.59" text-anchor="end">1.0</text><text x="669.03" y="141.59">1.0</text><text x="388.55" y="108.36" text-anchor="end">1.5</text><text x="669.03" y="108.36">1.5</text><text x="388.55" y="75.14" text-anchor="end">2.0</text><text x="669.03" y="75.14">2.0</text><text x="388.55" y="41.91" text-anchor="end">2.5</text><text x="669.03" y="41.91">2.5</text><text x="388.55" y="8.69" text-anchor="end">3.0</text><text x="669.03" y="8.69">3.0</text><text x="414.37" y="215.29" text-anchor="middle">−1.0</text><text x="471.65" y="215.29" text-anchor="middle">−0.5</text><text x="528.94" y="215.29" text-anchor="middle">0.0</text><text x="586.23" y="215.29" text-anchor="middle">0.5</text><text x="643.51" y="215.29" text-anchor="middle">1.0</text></g><rect x="419.3" y="12.2" width="66.2" height="38.5" rx="2.5" fill="#fff" fill-opacity="0.8" stroke="#777" stroke-width="0.9"/><line x1="426.7" y1="21.1" x2="443.1" y2="21.1" stroke="#ff5050" stroke-width="1.15"/><line x1="426.7" y1="39.2" x2="443.1" y2="39.2" stroke="#4d4dff" stroke-width="1.15"/><text x="455.3" y="24.5" font-family="Liberation Serif, serif" font-size="10.5" fill="#2a2a2a" textLength="10.6" lengthAdjust="spacingAndGlyphs"><tspan font-style="italic">v</tspan><tspan font-size="7.3" dy="2.3">A</tspan></text><text x="455.3" y="41.599999999999994" font-family="Liberation Serif, serif" font-size="10.5" fill="#2a2a2a" textLength="24.8" lengthAdjust="spacingAndGlyphs"><tspan font-style="italic">ρ</tspan><tspan font-size="7.3" dy="2.3">1</tspan><tspan dx="1.0" font-size="14.49" dy="-0.20">/</tspan><tspan font-style="italic" dx="1.0" dy="-2.10">ρ</tspan><tspan font-size="7.3" dy="2.3">0</tspan></text><rect x="578.9" y="11.6" width="60.2" height="47.0" rx="2.5" fill="#fff" fill-opacity="0.55" stroke="#777" stroke-width="0.9"/><text x="582.8" y="24.7" font-family="Liberation Serif, serif" font-size="10.5" fill="#2a2a2a" textLength="50.6" lengthAdjust="spacingAndGlyphs"><tspan font-style="italic">ρ</tspan><tspan font-size="7.3" dy="2.3">2</tspan><tspan font-size="14.49" dy="-0.20">/</tspan><tspan font-style="italic" dy="-2.10">ρ</tspan><tspan font-size="7.3" dy="2.3">0</tspan><tspan dy="-2.3"> = 2.0</tspan></text><text x="582.6" y="39.3" font-family="Liberation Serif, serif" font-size="10.5" fill="#2a2a2a" textLength="52.6" lengthAdjust="spacingAndGlyphs"><tspan font-style="italic">ω</tspan><tspan font-size="14.49" dy="2.10">/</tspan><tspan font-style="italic" dy="-2.10">kc</tspan><tspan font-size="7.3" dy="2.3">0</tspan><tspan dy="-2.3"> = 0.6</tspan></text><text x="582.6" y="53.9" font-family="Liberation Serif, serif" font-size="10.5" fill="#2a2a2a" textLength="42.2" lengthAdjust="spacingAndGlyphs"><tspan font-style="italic">kx</tspan><tspan font-size="7.3" dy="2.3">0</tspan><tspan dy="-2.3"> = 1.0</tspan></text><text x="7.4" y="119.6" font-family="Liberation Serif, serif" font-size="11" fill="#2a2a2a" textLength="27.8" lengthAdjust="spacingAndGlyphs" transform="rotate(-90 7.4 119.6)"><tspan font-style="italic">v</tspan><tspan font-size="7.3" dy="2.3">A</tspan><tspan dx="1.4" font-size="15.18" dy="-0.10">/</tspan><tspan font-style="italic" dx="1.4" dy="-2.20">c</tspan><tspan font-size="7.3" dy="2.3">0</tspan></text><text x="336.4" y="119.6" font-family="Liberation Serif, serif" font-size="11" fill="#2a2a2a" textLength="27.6" lengthAdjust="spacingAndGlyphs" transform="rotate(-90 336.4 119.6)"><tspan font-style="italic">ρ</tspan><tspan font-size="7.3" dy="2.3">1</tspan><tspan dx="1.4" font-size="15.18" dy="-0.10">/</tspan><tspan font-style="italic" dx="1.4" dy="-2.20">ρ</tspan><tspan font-size="7.3" dy="2.3">0</tspan></text><text x="367.0" y="119.6" font-family="Liberation Serif, serif" font-size="11" fill="#2a2a2a" textLength="27.8" lengthAdjust="spacingAndGlyphs" transform="rotate(-90 367.0 119.6)"><tspan font-style="italic">v</tspan><tspan font-size="7.3" dy="2.3">A</tspan><tspan dx="1.4" font-size="15.18" dy="-0.10">/</tspan><tspan font-style="italic" dx="1.4" dy="-2.20">c</tspan><tspan font-size="7.3" dy="2.3">0</tspan></text><text x="695.8" y="119.6" font-family="Liberation Serif, serif" font-size="11" fill="#2a2a2a" textLength="27.6" lengthAdjust="spacingAndGlyphs" transform="rotate(-90 695.8 119.6)"><tspan font-style="italic">ρ</tspan><tspan font-size="7.3" dy="2.3">1</tspan><tspan dx="1.4" font-size="15.18" dy="-0.10">/</tspan><tspan font-style="italic" dx="1.4" dy="-2.20">ρ</tspan><tspan font-size="7.3" dy="2.3">0</tspan></text><text x="162.6" y="229.2" font-family="Liberation Serif, serif" font-size="12" fill="#2a2a2a" textLength="14.8" lengthAdjust="spacingAndGlyphs"><tspan font-style="italic">R</tspan><tspan font-size="7.3" dy="2.3">A</tspan></text><text x="507.2" y="229.2" font-family="Liberation Serif, serif" font-size="12" fill="#2a2a2a" textLength="45.0" lengthAdjust="spacingAndGlyphs"><tspan>Δ</tspan><tspan font-size="7.3" dy="2.3">min</tspan><tspan font-size="16.56" dy="0.10">/</tspan><tspan font-style="italic" dy="-2.40">x</tspan><tspan font-size="7.3" dy="2.3">0</tspan></text><text x="89.8" y="255" font-family="Liberation Serif, serif" font-size="12" fill="#2a2a2a" textLength="149.6" lengthAdjust="spacingAndGlyphs">(a) Amplitude ratio inversion</text><text x="411.2" y="255" font-family="Liberation Serif, serif" font-size="12" fill="#2a2a2a" textLength="213.7" lengthAdjust="spacingAndGlyphs">(b) Minimum perturbation shift inversion</text>
</svg>
</body></html>
